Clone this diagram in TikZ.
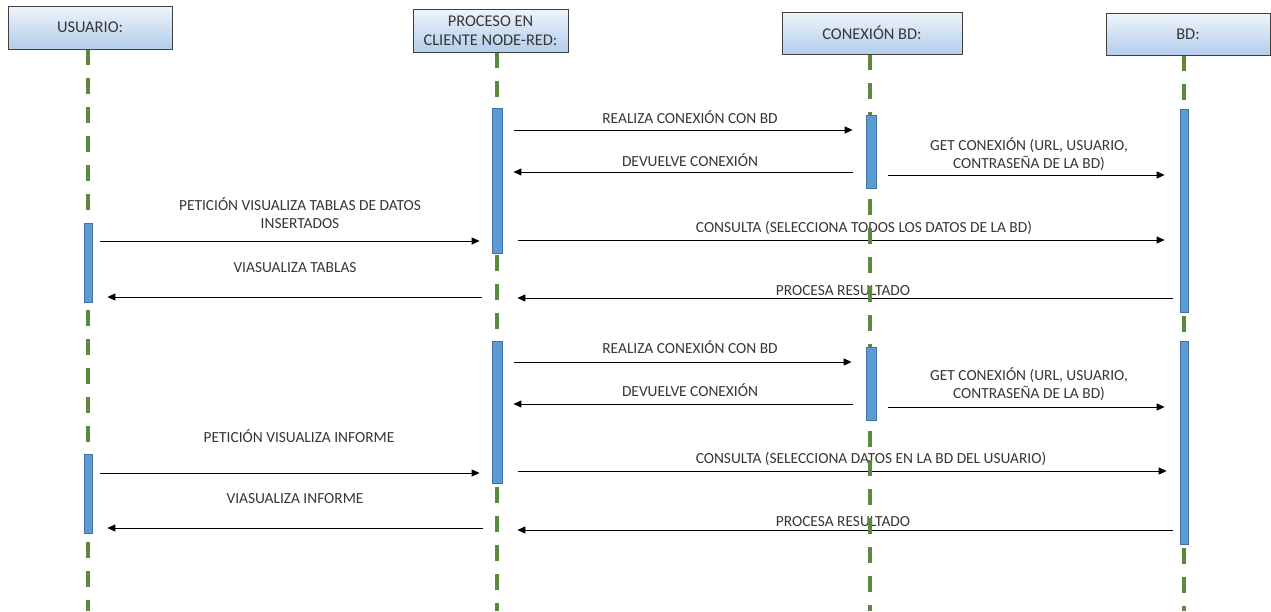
\documentclass[tikz,border=0pt]{standalone}
\usepackage{fontspec}
\setmainfont{Carlito}
\usetikzlibrary{arrows.meta}

\definecolor{headtop}{HTML}{EEF4FB}
\definecolor{headbot}{HTML}{B3CDEB}
\definecolor{barfill}{HTML}{5B9BD5}
\definecolor{barline}{HTML}{41719C}
\definecolor{lifegreen}{HTML}{5B8A3C}
\definecolor{txt}{HTML}{363636}

\pgfdeclarelayer{msgs}
\pgfdeclarelayer{lines}
\pgfsetlayers{msgs,lines,main}

\begin{document}
\begin{tikzpicture}[x=1pt,y=-1pt,
  head/.style={draw=black!75, line width=0.9pt, top color=headtop, bottom color=headbot,
    text=txt, font=\fontsize{16.4}{19.5}\selectfont, align=center, inner sep=0pt},
  bar/.style={draw=barline, fill=barfill, line width=0.8pt, inner sep=0pt, anchor=north},
  life/.style={draw=lifegreen, line width=4pt, dash pattern=on 16pt off 13pt},
  msg/.style={draw=black, line width=1pt, -{Triangle[length=8pt,width=7pt]}},
  lbl/.style={text=txt, font=\fontsize{15.4}{18}\selectfont, inner sep=0pt, align=center, anchor=base}
]
\useasboundingbox (0,0) rectangle (1271,611);

% participants
\node[head, minimum width=164pt, minimum height=43pt] (usr)  at (90,27.5)  {USUARIO:};
\node[head, minimum width=155pt, minimum height=43pt] (proc) at (490.5,30.5) {PROCESO EN\\CLIENTE NODE-RED:};
\node[head, minimum width=180pt, minimum height=42pt] (con)  at (872,33)    {CONEXIÓN BD:};
\node[head, minimum width=164pt, minimum height=42pt] (bd)   at (1188,34)   {BD:};

% activation bars
\node[bar, minimum width=8pt,  minimum height=79pt]  (u1) at (88,223)  {};
\node[bar, minimum width=8pt,  minimum height=79pt]  (u2) at (88,454)  {};
\node[bar, minimum width=10pt, minimum height=145pt] (p1) at (497,108)  {};
\node[bar, minimum width=10pt, minimum height=142pt] (p2) at (497,341)  {};
\node[bar, minimum width=10pt, minimum height=73pt]  (c1) at (871,115)  {};
\node[bar, minimum width=10pt, minimum height=73pt]  (c2) at (871,347)  {};
\node[bar, minimum width=8pt,  minimum height=203pt] (b1) at (1184,109) {};
\node[bar, minimum width=8pt,  minimum height=203pt] (b2) at (1184,341) {};

% lifelines
\coordinate (uend) at (88,611);
\coordinate (pend) at (497,611);
\coordinate (cend) at (870,611);
\coordinate (bend) at (1184,611);
\begin{pgfonlayer}{lines}
  \draw[life] (usr.south -| uend)  -- (uend);
  \draw[life] (proc.south -| pend) -- (pend);
  \draw[life] (con.south -| cend)  -- (cend);
  \draw[life] (bd.south -| bend)   -- (bend);
\end{pgfonlayer}

% multi-line labels are placed by the baseline of their last line
\begin{pgfonlayer}{msgs}
  % first exchange: table of inserted data
  \draw[msg, shorten <=12pt, shorten >=13pt] (p1.east |- 0,130) -- (c1.west |- 0,130);
  \node[lbl] (l1) at (690,123) {REALIZA CONEXIÓN CON BD};
  \draw[msg, shorten <=13pt, shorten >=11pt] (c1.west |- 0,172) -- (p1.east |- 0,172);
  \node[lbl] (l2) at (690,166) {DEVUELVE CONEXIÓN};
  \draw[msg, shorten <=12pt, shorten >=15pt] (c1.east |- 0,175) -- (b1.west |- 0,175);
  \node[lbl] (l3) at (1029,168) {GET CONEXIÓN (URL, USUARIO,\\CONTRASEÑA DE LA BD)};
  \draw[msg, shorten <=8pt, shorten >=12pt] (u1.east |- 0,241) -- (p1.west |- 0,241);
  \node[lbl] (l4) at (300,228) {PETICIÓN VISUALIZA TABLAS DE DATOS\\INSERTADOS};
  \draw[msg, shorten <=16pt, shorten >=15pt] (p1.east |- 0,240) -- (b1.west |- 0,240);
  \node[lbl] (l5) at (864,232) {CONSULTA (SELECCIONA TODOS LOS DATOS DE LA BD)};
  \draw[msg, shorten <=7pt, shorten >=15pt] (b1.west |- 0,298) -- (p1.east |- 0,298);
  \node[lbl] (l6) at (843,295) {PROCESA RESULTADO};
  \draw[msg, shorten <=10pt, shorten >=15pt] (p1.west |- 0,297) -- (u1.east |- 0,297);
  \node[lbl] (l7) at (295,272) {VIASUALIZA TABLAS};

  % second exchange: report
  \draw[msg, shorten <=12pt, shorten >=14pt] (p2.east |- 0,362) -- (c2.west |- 0,362);
  \node[lbl] (l8) at (690,353) {REALIZA CONEXIÓN CON BD};
  \draw[msg, shorten <=13pt, shorten >=11pt] (c2.west |- 0,404) -- (p2.east |- 0,404);
  \node[lbl] (l9) at (690,396) {DEVUELVE CONEXIÓN};
  \draw[msg, shorten <=12pt, shorten >=15pt] (c2.east |- 0,407) -- (b2.west |- 0,407);
  \node[lbl] (l10) at (1029,398) {GET CONEXIÓN (URL, USUARIO,\\CONTRASEÑA DE LA BD)};
  \draw[msg, shorten <=8pt, shorten >=12pt] (u2.east |- 0,473) -- (p2.west |- 0,473);
  \node[lbl] (l11) at (299,442) {PETICIÓN VISUALIZA INFORME};
  \draw[msg, shorten <=16pt, shorten >=13pt] (p2.east |- 0,471) -- (b2.west |- 0,471);
  \node[lbl] (l12) at (871,463) {CONSULTA (SELECCIONA DATOS EN LA BD DEL USUARIO)};
  \draw[msg, shorten <=7pt, shorten >=15pt] (b2.west |- 0,530) -- (p2.east |- 0,530);
  \node[lbl] (l13) at (843,526) {PROCESA RESULTADO};
  \draw[msg, shorten <=9pt, shorten >=15pt] (p2.west |- 0,528) -- (u2.east |- 0,528);
  \node[lbl] (l14) at (295,503) {VIASUALIZA INFORME};
\end{pgfonlayer}
\end{tikzpicture}
\end{document}
